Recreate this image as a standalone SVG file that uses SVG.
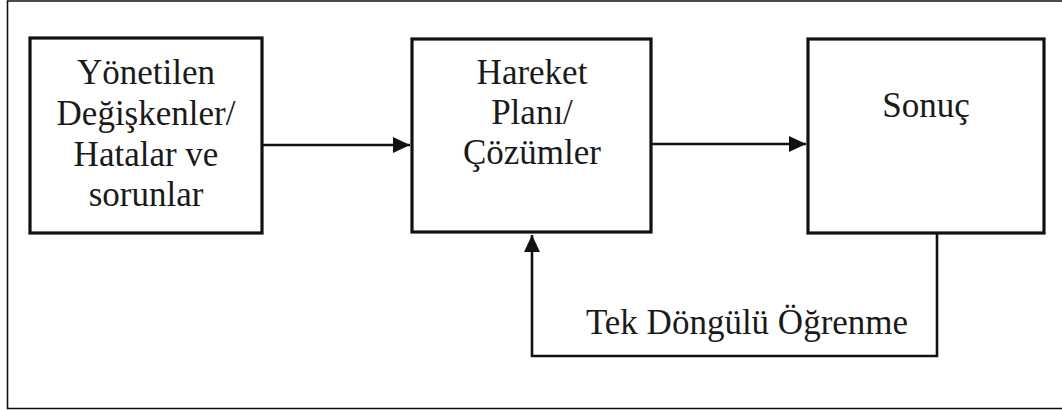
<svg xmlns="http://www.w3.org/2000/svg" width="1062" height="410" viewBox="0 0 1062 410">
<style>
.box{fill:#fff;stroke:#111;stroke-width:3.2}
.lbl{font-family:"Liberation Serif","Times New Roman",serif;font-size:35px;fill:#1a1a1a;text-anchor:middle}
.con{fill:none;stroke:#111;stroke-width:2.6}
.frame{fill:none;stroke:#111;stroke-width:1.6}
</style>
<defs>
<marker id="ah" markerWidth="18" markerHeight="18" viewBox="0 0 18 18" refX="17" refY="9" orient="auto" markerUnits="userSpaceOnUse">
<path d="M0,1 L17,9 L0,17 Z" fill="#111"/>
</marker>
</defs>
<rect width="1062" height="410" fill="#fff"/>
<path class="frame" d="M1062,1 H7.5 V408.5 H1062"/>
<g id="n1">
<rect class="box" x="30" y="38" width="232" height="195"/>
<text class="lbl" x="146" y="84">Yönetilen</text>
<text class="lbl" x="146" y="125">Değişkenler/</text>
<text class="lbl" x="146" y="166">Hatalar ve</text>
<text class="lbl" x="146" y="206">sorunlar</text>
</g>
<g id="n2">
<rect class="box" x="412" y="39" width="239" height="193"/>
<text class="lbl" x="532" y="84">Hareket</text>
<text class="lbl" x="532" y="124">Planı/</text>
<text class="lbl" x="532" y="164">Çözümler</text>
</g>
<g id="n3">
<rect class="box" x="808" y="39" width="236" height="194"/>
<text class="lbl" x="926" y="117">Sonuç</text>
</g>
<g id="connectors">
<line class="con" x1="262" y1="145" x2="410" y2="145" marker-end="url(#ah)"/>
<line class="con" x1="651" y1="144" x2="806" y2="144" marker-end="url(#ah)"/>
<path class="con" d="M937,233 V356 H532 V235" marker-end="url(#ah)"/>
<text class="lbl" x="747" y="334">Tek Döngülü Öğrenme</text>
</g>
</svg>
